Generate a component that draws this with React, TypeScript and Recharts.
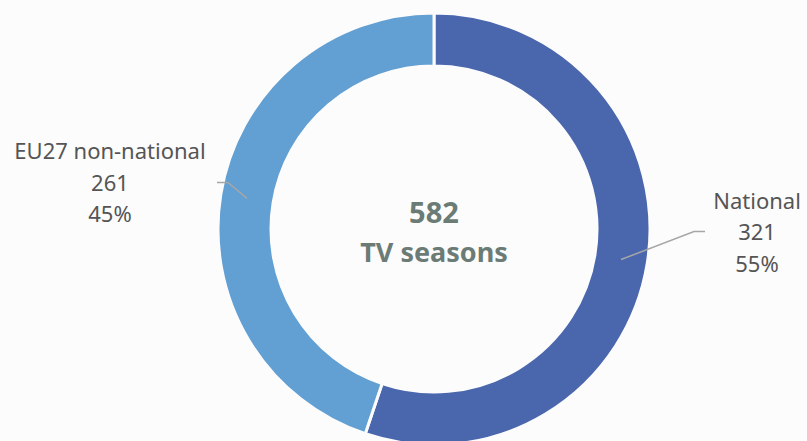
import { Label, Pie, PieChart, Cell } from "recharts";

const categories = ["National", "EU27 non-national"];
const seasonCounts = [321, 261];
const shareLabels = ["55%", "45%"];
const totalLabel = "582";
const totalCaption = "TV seasons";

const COLORS = ["#4a67ae", "#629fd3"];
const BG = "#fcfcfc";
const TEXT = "#555555";
const FONT = "'Noto Sans', sans-serif";

const chartData = categories.map((name, i) => ({
  name,
  value: seasonCounts[i],
  share: shareLabels[i],
}));

const RADIAN = Math.PI / 180;

// leader line + three-line label, elbow style like the office chart
function renderLabel(props: any) {
  const { cx, cy, midAngle, innerRadius, outerRadius, index } = props;
  const r = (innerRadius + outerRadius) / 2;
  const sx = cx + r * Math.cos(-midAngle * RADIAN);
  const sy = cy + r * Math.sin(-midAngle * RADIAN);
  const right = Math.cos(-midAngle * RADIAN) >= 0;
  const ex = right ? sx + 73 : sx - 19;
  const ey = right ? sy - 28 : sy - 16;
  const hx = right ? ex + 11 : ex - 11;
  const tx = right ? ex + 63 : ex - 118;
  const ty = ey - 23;
  const d = chartData[index];
  return (
    <g key={`lbl-${index}`}>
      <polyline
        points={`${sx},${sy} ${ex},${ey} ${hx},${ey}`}
        fill="none"
        stroke="#a6a6a6"
        strokeWidth={1.5}
      />
      <text
        x={tx}
        y={ty}
        textAnchor="middle"
        fill={TEXT}
        fontSize={22}
        fontFamily={FONT}
      >
        <tspan x={tx} dy={0}>{d.name}</tspan>
        <tspan x={tx} dy={31.5}>{d.value}</tspan>
        <tspan x={tx} dy={31.5}>{d.share}</tspan>
      </text>
    </g>
  );
}

function CenterText(props: any) {
  const vb = props.viewBox || {};
  const cx = vb.cx ?? 434;
  const cy = vb.cy ?? 229;
  return (
    <g>
      <text
        x={cx}
        y={cy - 6}
        textAnchor="middle"
        fill="#6b7b76"
        fontSize={29}
        fontWeight={700}
        fontFamily={FONT}
      >
        {totalLabel}
      </text>
      <text
        x={cx}
        y={cy + 33}
        textAnchor="middle"
        fill="#6b7b76"
        fontSize={27}
        fontWeight={700}
        fontFamily={FONT}
      >
        {totalCaption}
      </text>
    </g>
  );
}

export default function App() {
  return (
    <div
      style={{
        position: "absolute",
        left: 0,
        top: 0,
        width: 807,
        height: 441,
        background: BG,
      }}
    >
      <PieChart width={807} height={441} margin={{ top: 0, right: 0, bottom: 0, left: 0 }}>
        <Pie
          data={chartData}
          dataKey="value"
          nameKey="name"
          cx={434}
          cy={229}
          innerRadius={163}
          outerRadius={216}
          startAngle={90}
          endAngle={-270}
          stroke={BG}
          strokeWidth={3}
          label={renderLabel}
          labelLine={false}
          isAnimationActive={false}
        >
          {chartData.map((entry, i) => (
            <Cell key={entry.name} fill={COLORS[i]} />
          ))}
          <Label position="center" content={CenterText} />
        </Pie>
      </PieChart>
    </div>
  );
}
